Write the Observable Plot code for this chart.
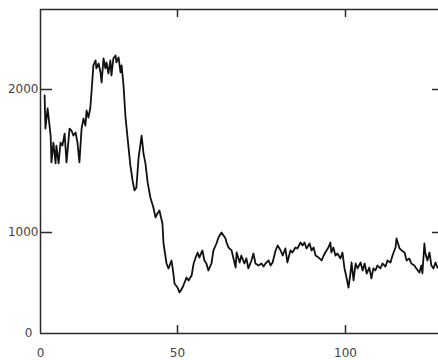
<!DOCTYPE html>
<html><head><meta charset="utf-8">
<script src="https://cdn.jsdelivr.net/npm/d3@7"></script>
<script src="https://cdn.jsdelivr.net/npm/@observablehq/plot@0.6"></script>
<style>body{margin:0;background:#fff} svg{display:block}</style>
</head><body><div id="chart"></div>
<script>
const xs = [1.5,1.8,2.6,3.7,4.0,4.7,5.5,5.8,6.6,7.3,8.0,8.8,9.5,10.6,11.3,12.0,12.8,13.5,14.2,15.0,15.7,16.4,16.8,17.5,18.2,18.6,19.3,20.1,20.4,21.2,21.9,22.3,23.0,23.7,24.1,24.8,25.5,25.9,26.6,27.4,27.7,28.5,29.2,29.6,30.3,31.0,31.8,32.8,33.6,34.3,35.0,35.8,36.9,37.6,38.3,39.1,40.1,41.2,42.0,42.7,43.4,44.5,44.9,46.0,46.7,47.8,48.5,48.9,50.0,50.6,51.5,52.1,52.7,53.3,54.2,54.8,55.4,56.0,56.5,57.4,58.0,58.6,59.2,60.1,60.7,61.6,62.2,63.1,63.7,64.3,64.6,65.2,66.1,67.3,67.6,68.5,69.0,69.9,70.5,71.1,72.0,72.6,73.2,74.1,75.0,75.6,76.2,77.1,77.7,78.3,79.2,79.8,80.7,81.3,82.1,82.7,83.6,84.2,85.1,85.7,86.6,87.2,87.8,88.4,89.3,89.9,90.5,91.1,92.0,92.9,93.5,94.0,94.9,95.5,95.8,96.4,97.0,97.6,98.5,99.1,99.7,100.3,100.9,101.5,101.8,102.4,103.0,103.6,104.5,105.1,105.7,106.3,107.1,107.7,108.3,108.9,109.5,110.4,111.0,111.9,112.5,113.4,114.0,114.9,115.2,116.1,116.7,117.6,118.2,119.0,119.6,120.5,121.1,122.0,122.6,122.9,123.5,123.8,124.4,125.0,125.6,126.2,126.8,127.4];
const ys = [1958,1727,1867,1678,1490,1629,1483,1608,1483,1629,1608,1692,1490,1727,1713,1678,1699,1629,1490,1727,1797,1748,1853,1804,1874,1979,2168,2203,2147,2182,2119,2049,2217,2147,2189,2112,2203,2098,2217,2238,2189,2224,2119,2168,2028,1811,1657,1469,1364,1294,1315,1524,1678,1552,1483,1350,1245,1175,1105,1133,1154,1063,891,693,644,723,594,495,455,406,455,505,554,525,574,693,752,802,752,822,723,693,624,693,822,891,950,1000,970,941,901,851,822,653,802,703,772,693,743,644,723,792,693,673,693,663,693,723,673,703,822,871,822,772,842,703,822,802,851,842,901,871,901,842,891,822,851,772,752,723,772,802,851,901,802,851,772,792,743,802,644,554,455,604,703,525,693,644,703,624,693,594,653,545,644,624,673,644,693,663,723,703,772,851,941,842,822,802,723,743,693,673,644,604,673,594,891,792,723,802,673,644,703,653];
const xTicks = [0, 50, 100];
const yTicks = [0, 1000, 2000];
const xDomain = [0, 50, 100, 127.7];
const yDomain = [0, 1000, 2000, 2559];
const data = xs.map((x, i) => ({x, y: ys[i]}));

const W = 438, H = 360, mL = 40, mT = 9, mB = 27, mR = 0;
const fw = W - mL - mR, fh = H - mT - mB;
// the reference's axes are unevenly spaced: warp each axis piecewise
const warpX = d3.scaleLinear().domain(xDomain).range([0, 137, 305, fw]);
const warpY = d3.scaleLinear().domain(yDomain).range([0, 101, 244, fh]);
const axisColor = "#2a2a2a";
const chart = Plot.plot({
  width: W, height: H,
  marginLeft: mL, marginTop: mT, marginBottom: mB, marginRight: mR,
  style: {fontFamily: "DejaVu Sans", fontSize: "12px", background: "#fff", color: "#444"},
  x: {transform: warpX, domain: [0, fw], label: null},
  y: {transform: warpY, domain: [0, fh], label: null},
  marks: [
    Plot.line(data, {x: "x", y: "y", stroke: "#111", strokeWidth: 1.8}),
    Plot.ruleX([xDomain[0]], {stroke: axisColor, strokeWidth: 1.5}),
    Plot.ruleY([yDomain[0], yDomain[yDomain.length - 1]], {stroke: axisColor, strokeWidth: 1.5}),
    Plot.ruleX(xTicks.slice(1), {stroke: axisColor, strokeWidth: 1.5, insetTop: fh - 8}),
    Plot.ruleX(xTicks.slice(1), {stroke: axisColor, strokeWidth: 1.5, insetBottom: fh - 8}),
    Plot.ruleY(yTicks.slice(1), {stroke: axisColor, strokeWidth: 1.5, insetRight: fw - 12}),
    Plot.ruleY(yTicks.slice(1), {stroke: axisColor, strokeWidth: 1.5, insetLeft: fw - 6}),
    Plot.axisX(xTicks, {tickSize: 0, tickPadding: 15, tickFormat: "d", fill: "#444", label: null}),
    Plot.axisY(yTicks.slice(1), {tickSize: 0, tickPadding: 2, tickFormat: "d", fill: "#444", label: null}),
    Plot.axisY(yTicks.slice(0, 1), {tickSize: 0, tickPadding: 8, tickFormat: "d", fill: "#444", label: null})
  ]
});
document.getElementById("chart").appendChild(chart);
</script>
</body></html>
